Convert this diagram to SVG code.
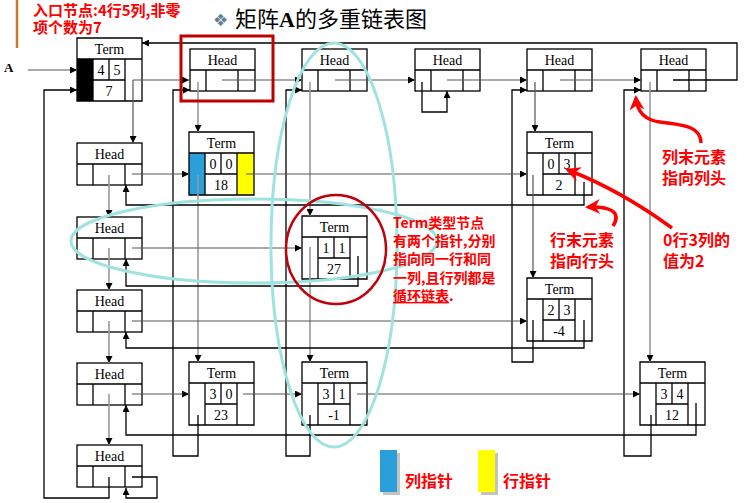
<svg xmlns="http://www.w3.org/2000/svg" width="744" height="503" viewBox="0 0 744 503">
<style>
.box{fill:none;stroke:#000;stroke-width:1.3}
.bg{fill:#fff}
.t{font-family:"Liberation Serif",serif;font-size:14px;text-anchor:middle;fill:#000}
.ptr{fill:none;stroke:#555;stroke-width:1.2;marker-end:url(#ah)}
.vp{fill:none;stroke:#999;stroke-width:1.6;marker-end:url(#ah)}
.ret{fill:none;stroke:#000;stroke-width:1.3;marker-end:url(#ah)}
.note{font-family:"Noto Sans CJK SC",sans-serif;font-weight:bold;fill:#f00}
.cy{fill:none;stroke:#9FE3E0;stroke-width:3}
.ra{fill:none;stroke:#f00;stroke-width:3.5;marker-end:url(#rh)}
</style>
<defs>
<marker id="ah" viewBox="0 0 10 10" refX="10" refY="5" markerWidth="7" markerHeight="7" orient="auto" markerUnits="userSpaceOnUse"><path d="M0 0L10 5L0 10z" fill="#000"/></marker>
<marker id="rh" viewBox="0 0 10 10" refX="8" refY="5" markerWidth="15" markerHeight="15" orient="auto" markerUnits="userSpaceOnUse"><path d="M0 0L10 5L0 10L3 5z" fill="#f00"/></marker>
<g id="headShape"><rect class="bg box" width="65" height="42"/><path class="box" d="M0 21H65M16 21V42M48 21V42"/><text class="t" x="32.5" y="16">Head</text></g>
<g id="termShape"><path class="box" d="M0 0H65V63H0zM0 21H65M16 21V63M48 21V63M16 42H48M32 21V42"/><text class="t" x="32.5" y="16">Term</text></g>
</defs>
<rect width="744" height="503" fill="#fff"/>

<!-- title and top-left note -->
<line x1="17" y1="0" x2="17" y2="48" stroke="#CC7A29" stroke-width="2.5"/>
<text class="note" font-size="15" x="33" y="16">入口节点:4行5列,非零<tspan x="33" dy="17">项个数为7</tspan></text>
<text x="213" y="26" font-family="DejaVu Sans,sans-serif" font-size="17" fill="#5F7F95">❖</text>
<text x="235" y="27" font-family="Noto Sans CJK SC,sans-serif" font-size="22" fill="#000">矩阵<tspan font-family="Liberation Serif,serif" font-weight="bold">A</tspan>的多重链表图</text>
<text x="4" y="72" font-family="Liberation Serif,serif" font-weight="bold" font-size="13">A</text>

<!-- nodes -->
<g id="entry" transform="translate(77,38)">
<rect class="bg" width="65" height="63"/>
<rect x="0" y="21" width="16" height="42" fill="#000"/>
<use href="#termShape"/>
<text class="t" x="24" y="37">4</text><text class="t" x="40" y="37">5</text><text class="t" x="32" y="58">7</text>
</g>
<g id="col-head-0" transform="translate(190,49)"><use href="#headShape"/></g>
<g id="col-head-1" transform="translate(302,49)"><use href="#headShape"/></g>
<g id="col-head-2" transform="translate(415,49)"><use href="#headShape"/></g>
<g id="col-head-3" transform="translate(527,49)"><use href="#headShape"/></g>
<g id="col-head-4" transform="translate(641,49)"><use href="#headShape"/></g>
<g id="row-head-0" transform="translate(77,143)"><use href="#headShape"/></g>
<g id="row-head-1" transform="translate(77,217)"><use href="#headShape"/></g>
<g id="row-head-2" transform="translate(77,290)"><use href="#headShape"/></g>
<g id="row-head-3" transform="translate(77,363)"><use href="#headShape"/></g>
<g id="row-head-4" transform="translate(77,445)"><use href="#headShape"/></g>

<g id="term-0-0" transform="translate(189,132)">
<rect class="bg" width="65" height="63"/>
<rect x="0" y="21" width="16" height="42" fill="#2A9FDA"/>
<rect x="48" y="21" width="17" height="42" fill="#FFFF00"/>
<use href="#termShape"/>
<text class="t" x="24" y="37">0</text><text class="t" x="40" y="37">0</text><text class="t" x="32" y="58">18</text>
</g>
<g id="term-0-3" transform="translate(527,132)"><rect class="bg" width="65" height="63"/><use href="#termShape"/>
<text class="t" x="24" y="37">0</text><text class="t" x="40" y="37">3</text><text class="t" x="32" y="58">2</text></g>
<g id="term-1-1" transform="translate(302,216)"><rect class="bg" width="65" height="63"/><use href="#termShape"/>
<text class="t" x="24" y="37">1</text><text class="t" x="40" y="37">1</text><text class="t" x="32" y="58">27</text></g>
<g id="term-2-3" transform="translate(527,278)"><rect class="bg" width="65" height="63"/><use href="#termShape"/>
<text class="t" x="24" y="37">2</text><text class="t" x="40" y="37">3</text><text class="t" x="32" y="58">-4</text></g>
<g id="term-3-0" transform="translate(189,362)"><rect class="bg" width="65" height="63"/><use href="#termShape"/>
<text class="t" x="24" y="37">3</text><text class="t" x="40" y="37">0</text><text class="t" x="32" y="58">23</text></g>
<g id="term-3-1" transform="translate(302,362)"><rect class="bg" width="65" height="63"/><use href="#termShape"/>
<text class="t" x="24" y="37">3</text><text class="t" x="40" y="37">1</text><text class="t" x="32" y="58">-1</text></g>
<g id="term-3-4" transform="translate(640,362)"><rect class="bg" width="65" height="63"/><use href="#termShape"/>
<text class="t" x="24" y="37">3</text><text class="t" x="40" y="37">4</text><text class="t" x="32" y="58">12</text></g>

<!-- connectors -->
<g id="connectors">
<path class="ptr" d="M28 70H77"/>
<path class="ptr" d="M133 80H189"/>
<path class="ptr" d="M133 80V143"/>
<path class="ptr" d="M222 80H302"/>
<path class="ptr" d="M335 80H415"/>
<path class="ptr" d="M447 80H527"/>
<path class="ptr" d="M560 80H641"/>
<path class="ret" d="M673 80H737V43H142"/>
<path class="vp" d="M198 82V132"/>
<path class="vp" d="M198 175V362"/>
<path class="vp" d="M310 82V216"/>
<path class="vp" d="M310 247V362"/>
<path class="ptr" d="M535 82V132"/>
<path class="ptr" d="M533 175V278"/>
<path class="vp" d="M650 82V362"/>
<path class="vp" d="M109 175V217"/>
<path class="vp" d="M109 248V290"/>
<path class="vp" d="M109 321V363"/>
<path class="vp" d="M109 394V445"/>
<path class="ret" d="M109 477V498H44V90H77"/>
<path class="ret" d="M198 415V456H173V90H190"/>
<path class="ret" d="M310 415V456H286V90H302"/>
<path class="ret" d="M422 82V112H447V91"/>
<path class="ret" d="M533 320V362H512V90H527"/>
<path class="ret" d="M651 415V456H624V90H641"/>
<path class="ptr" d="M132 174H189"/>
<path class="ptr" d="M246 174H527"/>
<path class="ret" d="M584 182V205H126V185"/>
<path class="ptr" d="M132 248H302"/>
<path class="ret" d="M358 256V286H126V259"/>
<path class="ptr" d="M132 321H527"/>
<path class="ret" d="M584 320V348H126V332"/>
<path class="ptr" d="M132 394H189"/>
<path class="ptr" d="M243 394H302"/>
<path class="ptr" d="M357 394H640"/>
<path class="ret" d="M696 403V435H126V405"/>
<path class="ret" d="M132 477H157V498H126V488"/>
</g>

<!-- highlights -->
<ellipse class="cy" cx="334" cy="245" rx="63" ry="202"/>
<ellipse class="cy" cx="254" cy="241" rx="183" ry="42"/>
<ellipse cx="336" cy="249.5" rx="50" ry="54.5" fill="none" stroke="#C0000A" stroke-width="2.5"/>
<rect x="181" y="36" width="92" height="65" fill="none" stroke="#C00000" stroke-width="3"/>

<!-- annotations -->
<text class="note" font-size="14" x="393" y="228">Term类型节点<tspan x="393" dy="18">有两个指针,分别</tspan><tspan x="393" dy="18">指向同一行和同</tspan><tspan x="393" dy="19">一列,且行列都是</tspan><tspan x="393" dy="18" text-decoration="underline">循环链表</tspan>.</text>
<text class="note" font-size="16" x="662" y="163">列末元素<tspan x="662" dy="21">指向列头</tspan></text>
<text class="note" font-size="16" x="550" y="246">行末元素<tspan x="550" dy="21">指向行头</tspan></text>
<text class="note" font-size="16" x="663" y="246">0行3列的<tspan x="663" dy="21">值为2</tspan></text>
<path class="ra" d="M701 143C701 125 680 125 660 122C645 120 637 112 636 98"/>
<path class="ra" d="M613 226C622 212 610 206 588 207"/>
<path class="ra" d="M672 228Q620 190 568 170"/>

<!-- legend -->
<rect x="383" y="453" width="17" height="42" fill="#888" opacity="0.5"/>
<rect x="380" y="450" width="17" height="42" fill="#2A9FDA"/>
<text class="note" font-size="16" x="405" y="487">列指针</text>
<rect x="481" y="453" width="17" height="42" fill="#888" opacity="0.5"/>
<rect x="478" y="450" width="17" height="42" fill="#FFFF00"/>
<text class="note" font-size="16" x="503" y="487">行指针</text>
</svg>
